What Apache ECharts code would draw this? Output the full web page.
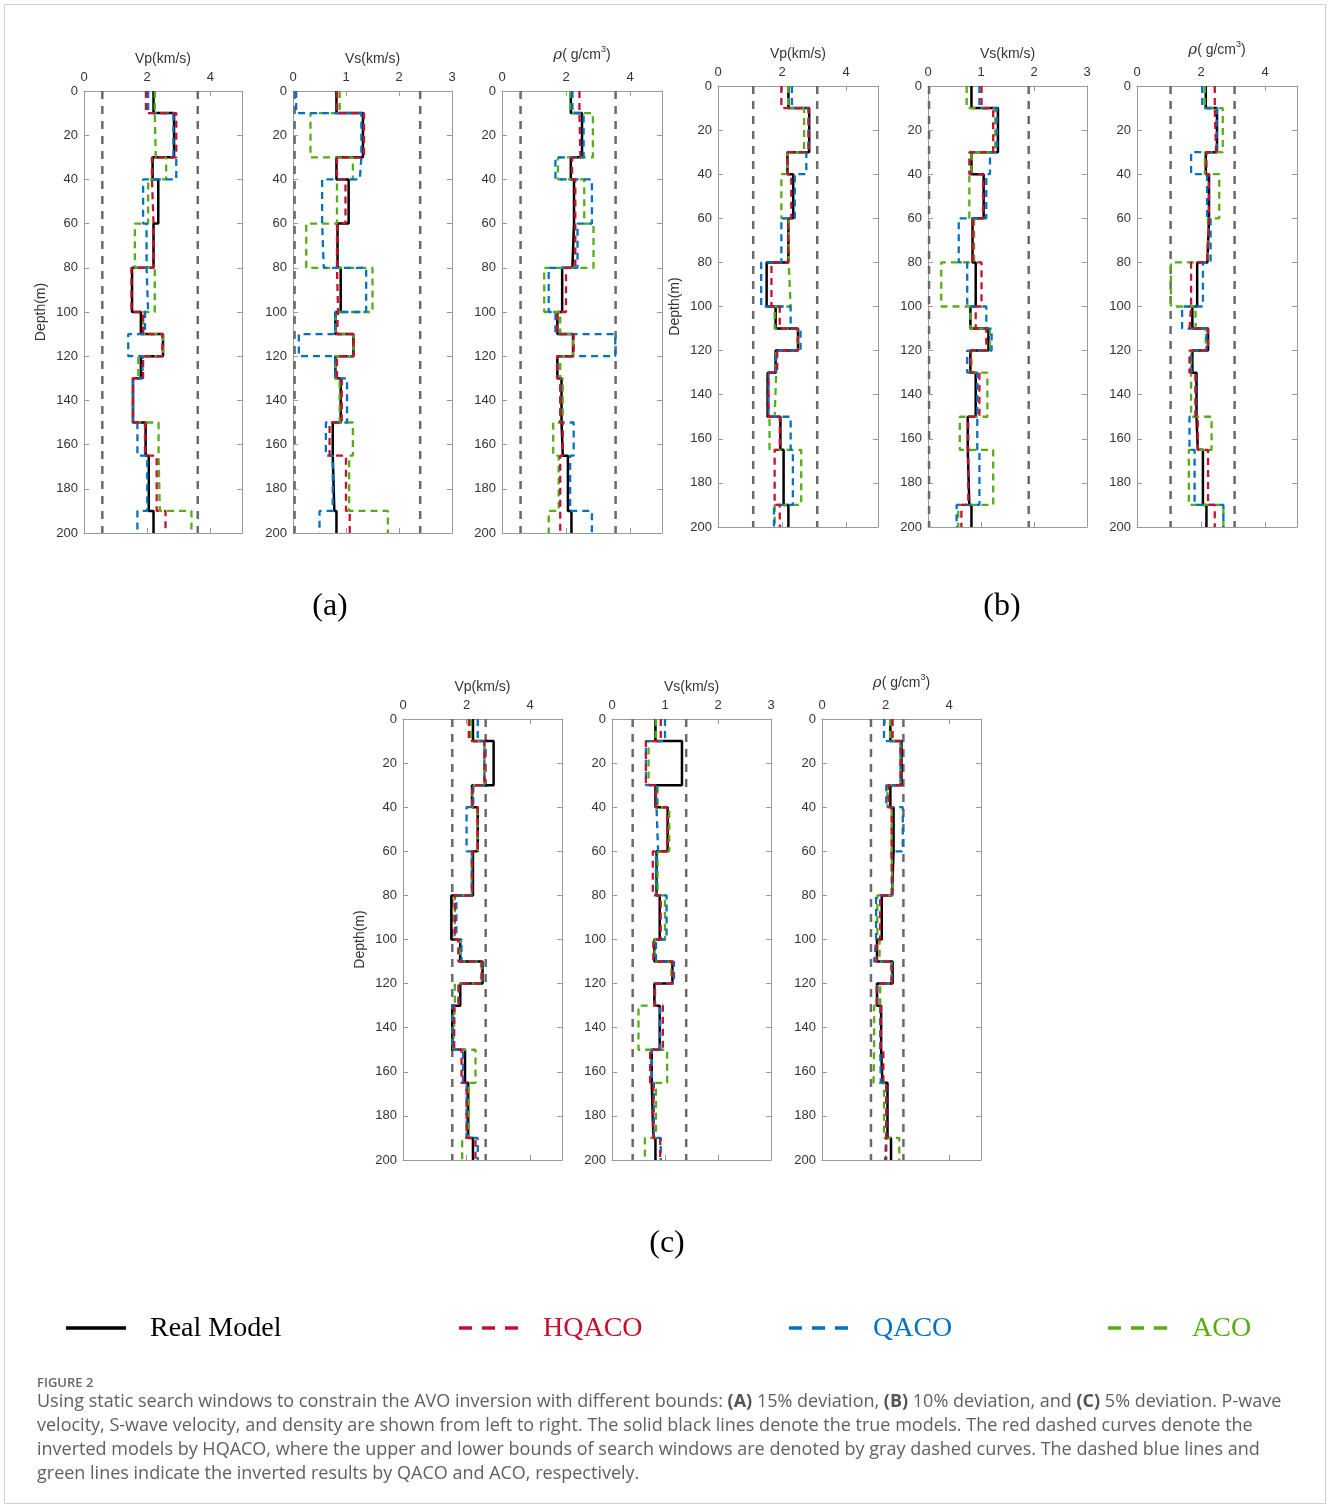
<!DOCTYPE html>
<html>
<head>
<meta charset="utf-8">
<script src="https://cdn.jsdelivr.net/npm/echarts@6/dist/echarts.min.js"></script>
<style>
  html, body { margin: 0; padding: 0; background: #fff; }
  #chart { width: 1330px; height: 1508px; }
</style>
</head>
<body>
<div id="chart"></div>
<script>
(function() {
  'use strict';

  // layer boundaries (m) shared by every profile
  var layerDepths = [0, 10, 30, 40, 60, 80, 100, 110, 120, 130, 150, 165, 190, 200];

  // true model
  var realVp  = [2.2, 2.85, 2.17, 2.35, 2.2, 1.52, 1.8, 2.5, 1.8, 1.55, 1.95, 2.05, 2.2];
  var realVs  = [0.82, 1.32, 0.82, 1.05, 0.84, 0.9, 0.8, 1.14, 0.8, 0.9, 0.75, 0.78, 0.82];
  var realRho = [2.15, 2.5, 2.15, 2.25, 2.2, 1.88, 1.73, 2.22, 1.73, 1.86, 1.9, 2.06, 2.17];

  // (a) 15% deviation
  var hqVpA  = [1.96, 2.92, 2.15, 2.2, 2.2, 1.5, 1.87, 2.48, 1.87, 1.55, 1.93, 2.3, 2.58];
  var qaVpA  = [2.03, 2.83, 2.92, 1.87, 1.98, 2.03, 1.93, 1.4, 1.85, 1.55, 1.69, 2.0, 1.69];
  var acVpA  = [2.24, 2.27, 2.6, 2.03, 1.61, 2.24, 1.87, 2.5, 1.72, 1.55, 2.36, 2.4, 3.4];
  var hqVsA  = [0.83, 1.34, 0.83, 0.99, 0.83, 0.85, 0.83, 1.14, 0.83, 0.92, 0.69, 1.0, 1.07];
  var qaVsA  = [0.06, 1.29, 1.26, 0.55, 0.58, 1.38, 0.8, 0.11, 0.8, 1.02, 0.62, 0.75, 0.5];
  var acVsA  = [0.88, 0.33, 1.13, 0.83, 0.25, 1.5, 0.8, 1.14, 0.8, 0.88, 1.13, 1.06, 1.79];
  var hqRhoA = [2.42, 2.45, 2.19, 2.29, 2.29, 2.0, 1.72, 2.24, 1.72, 1.82, 1.9, 1.82, 1.82];
  var qaRhoA = [2.2, 2.55, 1.67, 2.81, 2.36, 1.46, 1.67, 3.54, 1.72, 1.82, 2.24, 2.13, 2.81];
  var acRhoA = [2.13, 2.84, 1.75, 2.57, 2.86, 1.32, 1.82, 2.22, 1.82, 1.9, 1.6, 1.77, 1.46];
  var boundsVpA = [0.58, 3.6];
  var boundsVsA = [0.03, 2.4];
  var boundsRhoA = [0.58, 3.55];

  // (b) 10% deviation
  var hqVpB  = [1.98, 2.83, 2.17, 2.29, 2.19, 1.67, 1.93, 2.5, 1.85, 1.58, 1.93, 1.77, 1.93];
  var qaVpB  = [2.31, 2.83, 2.76, 2.4, 1.98, 1.35, 2.27, 2.58, 1.82, 1.58, 2.27, 2.34, 1.75];
  var acVpB  = [2.19, 2.69, 2.17, 1.98, 2.21, 2.27, 1.77, 2.48, 1.82, 1.77, 1.61, 2.6, 1.77];
  var hqVsB  = [1.01, 1.23, 0.78, 1.04, 0.85, 1.01, 0.9, 1.1, 0.8, 0.97, 0.76, 0.76, 0.63];
  var qaVsB  = [0.97, 1.3, 1.17, 1.1, 0.58, 0.74, 1.1, 1.2, 0.74, 0.93, 0.93, 0.97, 0.54];
  var acVsB  = [0.73, 1.27, 0.82, 0.78, 0.87, 0.25, 0.8, 1.17, 0.82, 1.12, 0.6, 1.23, 0.57];
  var hqRhoB = [2.43, 2.47, 2.17, 2.25, 2.19, 1.69, 1.64, 2.22, 1.64, 1.83, 1.9, 2.22, 2.43];
  var qaRhoB = [2.04, 2.49, 1.69, 2.19, 2.3, 2.06, 1.41, 2.17, 1.69, 1.83, 1.64, 1.8, 2.7];
  var acRhoB = [2.12, 2.68, 2.12, 2.57, 2.22, 1.06, 1.83, 2.15, 1.69, 1.69, 2.33, 1.62, 2.7];
  var boundsVpB = [1.1, 3.1];
  var boundsVsB = [0.02, 1.9];
  var boundsRhoB = [1.05, 3.05];

  // (c) 5% deviation
  var hqVpC  = [2.07, 2.56, 2.18, 2.35, 2.18, 1.63, 1.74, 2.47, 1.76, 1.61, 1.84, 2.0, 2.28];
  var qaVpC  = [2.35, 2.56, 2.21, 2.0, 2.16, 1.68, 1.84, 2.49, 1.74, 1.55, 1.89, 2.0, 2.35];
  var acVpC  = [2.14, 2.56, 2.18, 2.35, 2.16, 1.63, 1.79, 2.47, 1.63, 1.58, 2.28, 2.07, 1.86];
  var hqVsC  = [0.92, 0.64, 0.83, 1.04, 0.77, 0.92, 0.78, 1.14, 0.81, 0.96, 0.72, 0.78, 0.91];
  var qaVsC  = [1.0, 0.64, 0.84, 0.87, 0.83, 1.03, 0.83, 1.17, 0.81, 0.91, 0.75, 0.79, 0.92];
  var acVsC  = [0.83, 0.69, 0.86, 1.08, 0.86, 1.0, 0.81, 1.12, 0.81, 0.5, 1.04, 0.83, 0.62];
  var hqRhoC = [2.22, 2.47, 2.09, 2.19, 2.22, 1.83, 1.72, 2.19, 1.72, 1.85, 1.93, 2.02, 2.02];
  var qaRhoC = [1.95, 2.47, 2.02, 2.54, 2.19, 1.7, 1.64, 2.19, 1.74, 1.83, 1.85, 2.02, 1.98];
  var acRhoC = [2.14, 2.47, 2.06, 2.19, 2.22, 1.74, 1.81, 2.19, 1.83, 1.64, 1.62, 1.95, 2.43];
  var boundsVpC = [1.55, 2.6];
  var boundsVsC = [0.39, 1.4];
  var boundsRhoC = [1.54, 2.56];

  var depthTicks = { min: 0, max: 200, interval: 20 };

  var colorReal = '#000000';
  var colorHq = '#c8102e';
  var colorQa = '#0072c6';
  var colorAc = '#56ad14';
  var colorBound = '#6a6a6a';
  var colorAxis = '#9a9a9a';
  var colorLabel = '#333333';
  var axisFont = 'Liberation Sans, Arial, sans-serif';

  var kinds = {
    vp:  { max: 5, interval: 2, name: 'Vp(km/s)', depth: true },
    vs:  { max: 3, interval: 1, name: 'Vs(km/s)', depth: false },
    rho: { max: 5, interval: 2, name: '{i|ρ}( g/cm{s|3})', depth: false }
  };

  var panels = [
    { left: 84,  top: 91,  width: 158, height: 442, kind: 'vp',  real: realVp,  hq: hqVpA,  qa: qaVpA,  ac: acVpA,  bounds: boundsVpA },
    { left: 293, top: 91,  width: 159, height: 442, kind: 'vs',  real: realVs,  hq: hqVsA,  qa: qaVsA,  ac: acVsA,  bounds: boundsVsA },
    { left: 502, top: 91,  width: 160, height: 442, kind: 'rho', real: realRho, hq: hqRhoA, qa: qaRhoA, ac: acRhoA, bounds: boundsRhoA },
    { left: 718, top: 86,  width: 160, height: 441, kind: 'vp',  real: realVp,  hq: hqVpB,  qa: qaVpB,  ac: acVpB,  bounds: boundsVpB },
    { left: 928, top: 86,  width: 159, height: 441, kind: 'vs',  real: realVs,  hq: hqVsB,  qa: qaVsB,  ac: acVsB,  bounds: boundsVsB },
    { left: 1137, top: 86, width: 160, height: 441, kind: 'rho', real: realRho, hq: hqRhoB, qa: qaRhoB, ac: acRhoB, bounds: boundsRhoB },
    { left: 403, top: 719, width: 159, height: 441, kind: 'vp',  real: realVp,  hq: hqVpC,  qa: qaVpC,  ac: acVpC,  bounds: boundsVpC },
    { left: 612, top: 719, width: 159, height: 441, kind: 'vs',  real: realVs,  hq: hqVsC,  qa: qaVsC,  ac: acVsC,  bounds: boundsVsC },
    { left: 822, top: 719, width: 159, height: 441, kind: 'rho', real: realRho, hq: hqRhoC, qa: qaRhoC, ac: acRhoC, bounds: boundsRhoC }
  ];

  // turn layer values into a blocky depth profile
  function stepData(vals) {
    var pts = [];
    for (var i = 0; i < vals.length; i++) {
      pts.push([vals[i], layerDepths[i]]);
      pts.push([vals[i], layerDepths[i + 1]]);
    }
    return pts;
  }

  function lineSeries(idx, name, data, color, width, dash) {
    return {
      name: name,
      type: 'line',
      xAxisIndex: idx * 2,
      yAxisIndex: idx * 2,
      data: data,
      showSymbol: false,
      symbol: 'none',
      silent: true,
      animation: false,
      lineStyle: { color: color, width: width, type: dash || 'solid' }
    };
  }

  var grids = [], xAxes = [], yAxes = [], series = [];

  panels.forEach(function(p, i) {
    var k = kinds[p.kind];
    grids.push({ left: p.left, top: p.top, width: p.width, height: p.height });

    var xBase = {
      gridIndex: i, type: 'value', min: 0, max: k.max, interval: k.interval,
      axisLine: { show: true, onZero: false, lineStyle: { color: colorAxis, width: 1 } },
      axisTick: { show: true, inside: true, length: 5, lineStyle: { color: colorAxis } },
      splitLine: { show: false }
    };
    xAxes.push(Object.assign({}, xBase, {
      position: 'top',
      axisLabel: { color: colorLabel, fontSize: 13, fontFamily: axisFont, margin: 7, showMaxLabel: p.kind === 'vs' },
      name: k.name,
      nameLocation: 'middle',
      nameGap: 25,
      nameTextStyle: {
        color: colorLabel, fontSize: 14, fontFamily: axisFont,
        rich: {
          i: { fontStyle: 'italic', fontSize: 15, fontFamily: 'DejaVu Serif, serif', color: colorLabel },
          s: { fontSize: 9, fontFamily: axisFont, color: colorLabel, padding: [0, 0, 12, 0] }
        }
      }
    }));
    xAxes.push(Object.assign({}, xBase, { position: 'bottom', axisLabel: { show: false } }));

    var yBase = {
      gridIndex: i, type: 'value', inverse: true,
      min: depthTicks.min, max: depthTicks.max, interval: depthTicks.interval,
      axisLine: { show: true, onZero: false, lineStyle: { color: colorAxis, width: 1 } },
      axisTick: { show: true, inside: true, length: 5, lineStyle: { color: colorAxis } },
      splitLine: { show: false }
    };
    yAxes.push(Object.assign({}, yBase, {
      position: 'left',
      axisLabel: { color: colorLabel, fontSize: 13, fontFamily: axisFont, margin: 6 },
      name: k.depth ? 'Depth(m)' : '',
      nameLocation: 'middle',
      nameGap: 36,
      nameTextStyle: { color: colorLabel, fontSize: 14, fontFamily: axisFont }
    }));
    yAxes.push(Object.assign({}, yBase, { position: 'right', axisLabel: { show: false } }));

    p.bounds.forEach(function(b) {
      series.push(lineSeries(i, 'bound', [[b, depthTicks.min], [b, depthTicks.max]], colorBound, 2.5, [8, 7]));
    });
    series.push(lineSeries(i, 'Real Model', stepData(p.real), colorReal, 2.5));
    series.push(lineSeries(i, 'ACO', stepData(p.ac), colorAc, 2.3, [7, 5]));
    series.push(lineSeries(i, 'QACO', stepData(p.qa), colorQa, 2.3, [7, 5]));
    series.push(lineSeries(i, 'HQACO', stepData(p.hq), colorHq, 2.3, [7, 5]));
  });

  // legend keys and captions
  var legendItems = [
    { label: 'Real Model', color: colorReal, x: 66, dash: null },
    { label: 'HQACO', color: colorHq, x: 459, dash: [13, 10] },
    { label: 'QACO', color: colorQa, x: 789, dash: [13, 10] },
    { label: 'ACO', color: colorAc, x: 1108, dash: [13, 10] }
  ];
  var graphics = [];
  legendItems.forEach(function(it) {
    graphics.push({
      type: 'line', silent: true,
      shape: { x1: it.x, y1: 1328, x2: it.x + 60, y2: 1328 },
      style: { stroke: it.color, lineWidth: 3.5, lineDash: it.dash }
    });
    graphics.push({
      type: 'text', silent: true, x: it.x + 84, y: 1329,
      style: { text: it.label, fill: it.color, font: '28px "Liberation Serif", "Times New Roman", serif', verticalAlign: 'middle' }
    });
  });

  var panelTags = [
    { text: '(a)', x: 330, y: 607 },
    { text: '(b)', x: 1002, y: 607 },
    { text: '(c)', x: 667, y: 1244 }
  ];
  panelTags.forEach(function(t) {
    graphics.push({
      type: 'text', silent: true, x: t.x, y: t.y,
      style: { text: t.text, fill: '#000', font: '32px "Liberation Serif", serif', align: 'center', verticalAlign: 'middle' }
    });
  });

  var captionFont = '"Open Sans", sans-serif';
  var captionLines = [
    'Using static search windows to constrain the AVO inversion with different bounds: {b|(A)} 15% deviation, {b|(B)} 10% deviation, and {b|(C)} 5% deviation. P-wave',
    'velocity, S-wave velocity, and density are shown from left to right. The solid black lines denote the true models. The red dashed curves denote the',
    'inverted models by HQACO, where the upper and lower bounds of search windows are denoted by gray dashed curves. The dashed blue lines and',
    'green lines indicate the inverted results by QACO and ACO, respectively.'
  ];
  graphics.push({
    type: 'text', silent: true, x: 37, y: 1383,
    style: { text: 'FIGURE 2', fill: '#666', fontSize: 13, fontWeight: 600, fontFamily: captionFont, verticalAlign: 'middle' }
  });
  captionLines.forEach(function(line, i) {
    graphics.push({
      type: 'text', silent: true, x: 37, y: 1402 + i * 24,
      style: {
        text: line, fill: '#5f5f5f', fontSize: 18, fontFamily: captionFont, verticalAlign: 'middle',
        rich: { b: { fontWeight: 700, fontSize: 18, fontFamily: captionFont, fill: '#555' } }
      }
    });
  });
  graphics.push({
    type: 'rect', silent: true,
    shape: { x: 4.5, y: 4.5, width: 1321, height: 1499 },
    style: { fill: 'none', stroke: '#cfcfcf', lineWidth: 1 }
  });

  var chart = echarts.init(document.getElementById('chart'), null, { renderer: 'canvas' });
  chart.setOption({
    animation: false,
    backgroundColor: '#ffffff',
    grid: grids,
    xAxis: xAxes,
    yAxis: yAxes,
    series: series,
    graphic: graphics
  });
})();
</script>
</body>
</html>
